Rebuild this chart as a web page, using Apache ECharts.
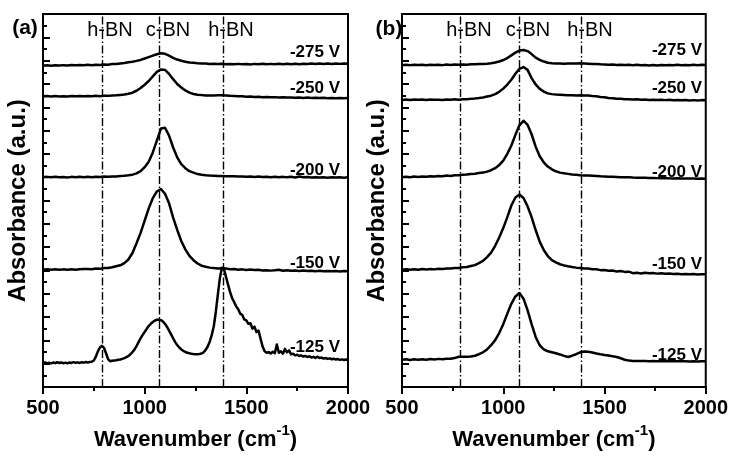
<!DOCTYPE html>
<html>
<head>
<meta charset="utf-8">
<title>FTIR absorbance of BN films</title>
<script src="https://cdn.jsdelivr.net/npm/echarts/dist/echarts.min.js"></script>
<style>
  html, body { margin: 0; padding: 0; background: #fff; }
  #chart { width: 731px; height: 462px; }
</style>
</head>
<body>
<div id="chart"></div>
<script>
// Wavenumber grids (cm^-1)
const wavenumber = [
  500,520,540,560,580,600,620,640,660,680,
  700,720,740,760,780,800,820,840,860,880,
  900,920,940,960,980,1000,1020,1040,1060,1080,
  1100,1120,1140,1160,1180,1200,1220,1240,1260,1280,
  1300,1320,1340,1360,1380,1400,1420,1440,1460,1480,
  1500,1520,1540,1560,1580,1600,1620,1640,1660,1680,
  1700,1720,1740,1760,1780,1800,1820,1840,1860,1880,
  1900,1920,1940,1960,1980,2000
];
const wavenumberFine = [
  500,510,520,530,540,550,560,570,580,590,
  600,610,620,630,640,650,660,670,680,690,
  700,710,720,730,740,750,760,770,780,790,
  800,810,820,830,840,850,860,870,880,890,
  900,910,920,930,940,950,960,970,980,990,
  1000,1010,1020,1030,1040,1050,1060,1070,1080,1090,
  1100,1110,1120,1130,1140,1150,1160,1170,1180,1190,
  1200,1210,1220,1230,1240,1250,1260,1270,1280,1290,
  1300,1310,1320,1330,1340,1350,1360,1370,1380,1390,
  1400,1410,1420,1430,1440,1450,1460,1470,1480,1490,
  1500,1510,1520,1530,1540,1550,1560,1570,1580,1590,
  1600,1610,1620,1630,1640,1650,1660,1670,1680,1690,
  1700,1710,1720,1730,1740,1750,1760,1770,1780,1790,
  1800,1810,1820,1830,1840,1850,1860,1870,1880,1890,
  1900,1910,1920,1930,1940,1950,1960,1970,1980,1990,
  2000
];

// Panel (a): stacked absorbance spectra (a.u., offset for display)
const a275 = [
  332.4,332.9,332.5,333.0,332.6,333.1,332.7,333.3,332.9,333.2,
  333.0,333.4,333.1,333.5,333.3,333.8,333.6,334.2,334.3,334.8,
  335.3,336.0,336.7,337.5,338.5,339.9,341.4,343.0,344.4,345.3,
  344.8,342.9,340.7,338.9,337.6,336.6,335.9,335.5,335.1,334.8,
  334.7,334.3,334.5,334.2,334.5,334.0,334.3,333.9,334.4,333.9,
  334.3,333.8,334.4,333.9,334.5,333.9,334.4,334.0,334.6,334.0,
  334.5,334.1,334.6,334.0,334.6,334.2,334.7,334.2,334.8,334.3,
  334.7,334.3,334.8,334.4,334.8,334.5
];
const a250 = [
  300.8,301.2,300.7,301.1,300.6,301.0,300.7,301.2,300.8,301.1,
  300.8,301.2,300.9,301.3,301.0,301.4,301.3,301.8,301.9,302.3,
  302.7,303.5,304.6,306.6,309.4,312.8,316.7,321.4,326.2,328.7,
  328.2,324.0,318.6,313.6,310.0,306.9,304.6,303.2,302.5,302.1,
  301.8,301.7,301.8,301.9,302.0,301.7,301.4,301.2,300.8,300.9,
  300.5,300.6,300.2,300.4,299.9,300.2,299.8,300.0,299.6,299.9,
  299.5,299.7,299.3,299.6,299.2,299.5,299.1,299.4,299.0,299.3,
  298.9,299.2,298.8,299.1,298.8,299.0
];
const a200 = [
  217.1,217.5,217.0,217.6,217.2,217.4,216.9,217.5,217.1,217.6,
  217.2,217.5,217.1,217.6,217.3,217.8,217.7,218.0,218.0,218.4,
  218.6,219.1,219.8,221.1,223.4,227.5,233.1,242.8,255.0,267.5,
  268.3,260.1,247.9,237.7,230.6,226.5,223.4,221.9,220.4,219.6,
  219.1,218.8,218.6,218.4,218.3,218.2,218.1,218.2,217.8,218.0,
  217.6,217.9,217.4,217.8,217.3,217.6,217.2,217.7,217.1,217.5,
  217.0,217.6,216.9,217.8,217.0,217.3,216.8,217.2,216.8,217.1,
  216.7,217.1,216.8,217.1,216.7,217.0
];
const a150 = [
  121.5,122.0,121.4,121.9,121.3,121.8,121.5,122.0,121.4,121.9,
  122.1,122.3,122.0,122.6,122.5,123.1,123.3,124.0,125.0,126.0,
  128.3,132.0,138.7,148.8,159.6,172.2,184.9,195.4,202.4,205.0,
  200.0,190.1,175.4,162.6,151.2,142.5,135.8,131.3,127.9,125.6,
  124.5,123.6,123.1,122.8,123.0,122.6,122.0,122.1,121.5,121.8,
  121.2,121.6,121.1,121.3,120.6,121.0,120.5,120.9,121.4,120.4,
  121.0,120.3,120.7,120.2,120.6,120.1,120.4,119.9,120.3,119.8,
  120.2,119.8,120.1,119.7,120.1,119.9
];
const a125 = [
  25.0,25.6,24.6,25.3,24.5,25.4,24.8,25.7,24.9,25.5,
  24.7,25.3,24.6,25.5,25.0,25.8,25.1,25.6,25.0,25.7,
  25.3,25.9,25.4,26.0,26.3,27.5,31.5,37.0,41.0,42.7,
  40.5,35.0,29.0,26.8,27.2,27.5,27.8,28.3,28.6,29.2,
  30.0,31.0,32.2,34.0,36.2,39.0,42.5,46.5,50.5,54.0,
  57.0,60.3,63.2,65.5,67.3,68.8,69.7,70.0,69.3,67.8,
  65.5,62.3,58.5,54.5,50.5,46.5,43.5,41.0,39.0,37.5,
  36.3,35.5,35.0,34.6,34.3,34.1,34.0,34.2,34.8,36.0,
  38.5,42.0,47.0,54.0,63.0,78.0,96.0,113.0,123.5,122.0,
  114.0,106.0,98.5,92.0,88.0,83.5,80.5,76.0,74.5,70.0,
  69.0,65.5,66.0,60.5,62.5,57.0,58.5,50.0,42.0,37.0,
  35.5,36.2,34.8,36.5,35.0,44.0,35.5,37.0,34.6,39.5,
  36.0,38.0,33.8,34.5,32.8,33.5,32.2,32.8,31.6,32.3,
  31.2,31.8,30.7,31.3,30.2,31.5,30.0,30.6,29.5,30.1,
  29.2,29.7,28.8,29.4,28.5,29.0,28.2,28.7,28.0,28.5,
  28.3
];

// Panel (b)
const b275 = [
  333.0,333.5,333.1,333.6,333.2,333.4,333.0,333.6,333.2,333.5,
  333.1,333.7,333.3,333.7,333.4,333.8,333.6,333.9,333.9,334.2,
  334.3,334.6,335.0,335.8,336.9,338.4,340.4,343.2,346.0,348.2,
  348.8,347.6,344.5,340.9,338.6,336.8,335.6,335.0,334.7,334.7,
  334.6,334.8,334.7,334.9,335.0,334.8,334.6,334.3,334.2,333.9,
  333.8,333.5,333.7,333.3,333.6,333.2,333.5,333.0,333.4,332.9,
  333.3,332.8,333.2,332.7,333.2,332.9,333.3,333.0,333.4,333.0,
  333.3,333.0,333.4,333.1,333.4,333.2
];
const b250 = [
  297.1,297.5,297.0,297.6,297.2,297.5,297.1,297.6,297.2,297.4,
  297.0,297.6,297.3,297.7,297.3,297.9,297.9,298.2,298.6,299.1,
  299.7,300.6,301.5,303.1,305.5,308.8,313.0,318.0,324.2,329.2,
  331.1,328.2,319.7,313.1,308.6,305.7,303.9,303.1,302.6,302.4,
  302.2,301.9,302.0,301.8,301.9,301.6,301.6,301.1,300.9,300.2,
  299.9,299.2,298.9,298.3,298.2,297.8,297.9,297.5,297.8,297.3,
  297.6,297.1,297.4,297.0,297.3,296.9,297.2,296.8,297.1,296.7,
  297.0,296.6,296.9,296.6,296.9,296.7
];
const b200 = [
  217.2,217.6,217.2,217.8,217.4,217.9,217.6,218.2,217.9,218.4,
  218.2,218.8,218.5,219.2,219.2,219.7,220.0,220.4,220.8,221.4,
  221.9,222.9,224.4,226.5,229.7,234.3,241.3,250.0,261.0,270.8,
  275.6,271.4,261.6,248.8,238.9,232.6,228.2,225.3,223.3,221.9,
  221.2,220.6,220.0,219.6,219.2,218.9,218.8,218.6,218.4,218.1,
  217.9,217.7,217.6,217.4,217.2,217.1,217.0,216.8,216.7,216.6,
  216.6,216.4,216.3,216.2,216.1,216.2,216.0,215.9,216.0,215.8,
  215.9,215.7,215.8,215.6,215.7,215.6
];
const b150 = [
  121.5,122.0,121.4,122.0,121.5,122.1,121.7,122.2,121.8,122.4,
  122.1,122.7,122.6,123.3,123.2,123.9,124.2,125.2,126.2,128.3,
  130.6,134.5,139.1,146.2,154.7,164.5,175.8,187.9,196.1,199.2,
  195.7,187.1,175.8,162.5,150.5,141.9,135.6,131.3,129.0,127.1,
  125.9,125.0,124.2,123.6,123.2,122.8,122.7,122.0,121.9,121.0,
  121.2,120.3,120.6,119.6,120.1,119.2,119.4,117.9,118.4,117.6,
  118.4,117.8,118.1,117.4,117.8,117.2,117.5,117.0,117.3,116.8,
  117.1,116.7,116.9,116.6,116.8,116.7
];
const b125 = [
  28.3,28.8,28.1,28.7,28.2,28.9,28.4,29.0,28.6,29.2,
  28.9,29.4,29.3,30.0,31.4,31.5,31.3,31.6,32.4,34.0,
  36.0,39.0,43.3,48.6,55.9,65.1,76.0,86.2,93.8,97.3,
  91.5,79.6,65.1,51.9,43.3,39.1,37.0,36.0,35.0,33.8,
  32.3,31.2,32.5,34.0,36.0,36.8,36.5,35.8,34.8,34.0,
  33.3,32.7,32.0,31.2,29.8,28.3,27.4,27.1,27.0,26.9,
  27.0,26.8,26.9,26.8,26.9,26.7,26.8,26.7,26.8,26.7,
  26.8,26.6,26.7,26.6,26.7,26.7
];

// Reference band positions (cm^-1): h-BN, c-BN, h-BN
const bandsA = [790, 1070, 1385];
const bandsB = [790, 1080, 1385];
const bandNames = ['h-BN', 'c-BN', 'h-BN'];
const biasLabels = ['-275 V', '-250 V', '-200 V', '-150 V', '-125 V'];
const xTicks = [500, 1000, 1500, 2000];

const FONT = '"Liberation Sans", Arial, Helvetica, sans-serif';

function pairs(xs, ys) { return ys.map((y, i) => [xs[i], y]); }

const panels = [
  { spectra: [[wavenumber, a275], [wavenumber, a250], [wavenumber, a200], [wavenumber, a150], [wavenumberFine, a125]], bands: bandsA },
  { spectra: [[wavenumber, b275], [wavenumber, b250], [wavenumber, b200], [wavenumber, b150], [wavenumber, b125]], bands: bandsB }
];

const grids = [
  { left: 43, right: 383, top: 14, bottom: 62 },
  { left: 402, right: 25, top: 14, bottom: 62 }
].map(g => Object.assign(g, { show: true, borderColor: '#000', borderWidth: 2, backgroundColor: 'transparent' }));

const xAxes = grids.map((g, i) => ({
  type: 'value', gridIndex: i, min: xTicks[0], max: xTicks[xTicks.length - 1], interval: 500,
  name: 'Wavenumber (cm{sup|-1})', nameLocation: 'middle', nameGap: 33,
  nameTextStyle: {
    fontFamily: FONT, fontSize: 22, fontWeight: 'bold', color: '#000', lineHeight: 34,
    rich: { sup: { fontFamily: FONT, fontSize: 15, fontWeight: 'bold', color: '#000', verticalAlign: 'top', lineHeight: 15 } }
  },
  axisLine: { show: true, onZero: false, lineStyle: { color: '#000', width: 2 } },
  axisTick: { show: true, inside: false, length: 7, lineStyle: { color: '#000', width: 2 } },
  minorTick: { show: true, splitNumber: 2, length: 4, lineStyle: { color: '#000', width: 2 } },
  axisLabel: {
    show: true, margin: 11, fontFamily: FONT, fontSize: 20, fontWeight: 'bold', color: '#000',
    formatter: v => String(v)
  },
  splitLine: { show: false }
}));

const yAxes = grids.map((g, i) => ({
  type: 'value', gridIndex: i, min: 0, max: 386, interval: 24.125,
  name: 'Absorbance (a.u.)', nameLocation: 'middle', nameGap: 13,
  nameTextStyle: { fontFamily: FONT, fontSize: 24, fontWeight: 'bold', color: '#000' },
  axisLine: { show: true, onZero: false, lineStyle: { color: '#000', width: 2 } },
  axisTick: { show: true, inside: true, length: 7, lineStyle: { color: '#000', width: 2 } },
  minorTick: { show: true, splitNumber: 2, length: 4, lineStyle: { color: '#000', width: 2 } },
  axisLabel: { show: false },
  splitLine: { show: false }
}));

const series = [];
panels.forEach((p, pi) => {
  p.spectra.forEach(([xs, ys], si) => {
    const s = {
      type: 'line', xAxisIndex: pi, yAxisIndex: pi,
      data: pairs(xs, ys), showSymbol: false, symbol: 'none', silent: true,
      lineStyle: { color: '#000', width: 2.5, join: 'round' },
      z: 3
    };
    if (si === 0) {
      s.markLine = {
        silent: true, symbol: ['none', 'none'], label: { show: false },
        lineStyle: { color: '#000', width: 1.4, type: [8, 2.5, 1.5, 2.5] },
        data: p.bands.map(v => ({ xAxis: v }))
      };
    }
    series.push(s);
  });
});

// Text annotations
function txt(text, x, y, size, weight, align) {
  return {
    type: 'text', x: x, y: y, z: 100, silent: true,
    style: {
      text: text, fill: '#000', font: weight + ' ' + size + 'px ' + FONT,
      textAlign: align, textVerticalAlign: 'middle', align: align, verticalAlign: 'middle'
    }
  };
}
const graphic = [];
graphic.push(txt('(a)', 25, 28, 21, 'bold', 'center'));
graphic.push(txt('(b)', 389, 29, 21, 'bold', 'center'));
[110, 168, 231].forEach((x, i) => graphic.push(txt(bandNames[i], x, 30, 20, 'normal', 'center')));
[469, 528, 590].forEach((x, i) => graphic.push(txt(bandNames[i], x, 30, 20, 'normal', 'center')));
[52, 88, 170.5, 263, 347.5].forEach((y, i) => graphic.push(txt(biasLabels[i], 340, y, 17, 'bold', 'right')));
[50, 88, 172, 264, 355].forEach((y, i) => graphic.push(txt(biasLabels[i], 702, y, 17, 'bold', 'right')));

const chart = echarts.init(document.getElementById('chart'), null, { renderer: 'canvas' });
chart.setOption({
  animation: false,
  backgroundColor: '#fff',
  grid: grids,
  xAxis: xAxes,
  yAxis: yAxes,
  series: series,
  graphic: graphic
});
</script>
</body>
</html>
